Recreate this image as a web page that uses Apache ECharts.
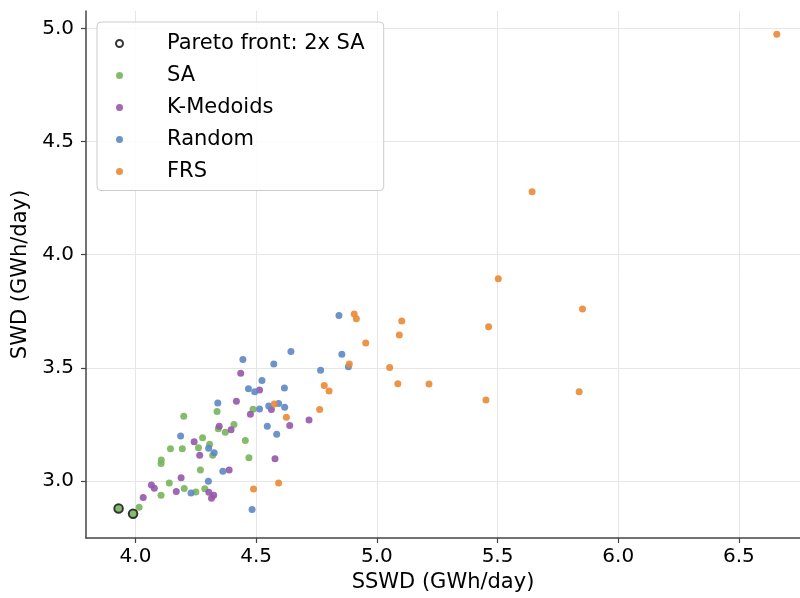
<!DOCTYPE html>
<html lang="en">
<head>
    <meta charset="UTF-8"/>
    <title>SWD vs SSWD</title>
    <script src="https://cdn.jsdelivr.net/npm/echarts@6/dist/echarts.min.js"></script>
    <style>
        html, body { margin: 0; padding: 0; background: #fff; }
        #chart { width: 800px; height: 598px; }
    </style>
</head>
<body>
<div id="chart"></div>
<script type="text/javascript">
    // points: [SSWD, SWD]
    var paretoPts = [[3.930, 2.879], [3.990, 2.856]];
    var saPts = [
        [4.487, 3.318], [4.338, 3.308], [4.200, 3.287], [4.408, 3.250], [4.343, 3.231],
        [4.372, 3.216], [4.455, 3.180], [4.278, 3.192], [4.307, 3.163], [4.261, 3.148],
        [4.194, 3.143], [4.145, 3.143], [4.320, 3.115], [4.107, 3.094], [4.106, 3.078],
        [4.470, 3.103], [4.269, 3.049], [4.140, 2.992], [4.202, 2.968], [4.250, 2.952],
        [4.287, 2.966], [4.106, 2.938], [4.015, 2.885], [3.930, 2.879], [3.990, 2.856]
    ];
    var kmedoidsPts = [
        [4.436, 3.477], [4.514, 3.403], [4.418, 3.353], [4.563, 3.317], [4.476, 3.295],
        [4.719, 3.270], [4.639, 3.246], [4.347, 3.243], [4.396, 3.227], [4.243, 3.174],
        [4.266, 3.115], [4.578, 3.099], [4.388, 3.049], [4.189, 3.015], [4.066, 2.983],
        [4.078, 2.969], [4.169, 2.954], [4.304, 2.951], [4.324, 2.938], [4.315, 2.925],
        [4.032, 2.928]
    ];
    var randomPts = [
        [4.843, 3.732], [4.644, 3.573], [4.855, 3.560], [4.445, 3.537], [4.573, 3.518],
        [4.882, 3.505], [4.767, 3.490], [4.524, 3.445], [4.468, 3.408], [4.494, 3.395],
        [4.617, 3.411], [4.341, 3.345], [4.514, 3.319], [4.552, 3.332], [4.593, 3.343],
        [4.618, 3.326], [4.546, 3.242], [4.585, 3.207], [4.187, 3.199], [4.303, 3.145],
        [4.326, 3.125], [4.362, 3.044], [4.302, 3.000], [4.230, 2.948], [4.483, 2.875]
    ];
    var frsPts = [
        [6.657, 4.974], [5.643, 4.278], [5.503, 3.894], [5.852, 3.760], [4.906, 3.738],
        [4.915, 3.717], [5.103, 3.707], [5.463, 3.682], [5.093, 3.646], [4.954, 3.610],
        [4.886, 3.518], [5.053, 3.502], [5.087, 3.430], [5.216, 3.429], [5.452, 3.358],
        [5.838, 3.395], [4.782, 3.423], [4.802, 3.398], [4.763, 3.316], [4.575, 3.341],
        [4.625, 3.282], [4.593, 2.992], [4.489, 2.965]
    ];
    var xTicks = [4.0, 4.5, 5.0, 5.5, 6.0, 6.5];
    var yTicks = [3.0, 3.5, 4.0, 4.5, 5.0];

    var fontFamily = '"DejaVu Sans", sans-serif';
    var spineColor = '#444';
    var gridColor = '#e6e6e6';

    var myChart = echarts.init(document.getElementById('chart'), null, {renderer: 'canvas'});

    function dotSeries(name, data, color) {
        return {
            name: name,
            type: 'scatter',
            data: data,
            symbol: 'circle',
            symbolSize: 7,
            itemStyle: {color: color, opacity: 0.9},
            emphasis: {disabled: true},
            z: 2
        };
    }

    var option = {
        animation: false,
        backgroundColor: '#fff',
        grid: {left: 86, right: 0, top: 11, bottom: 60},
        legend: {
            orient: 'vertical',
            left: 97,
            top: 22,
            padding: [10.5, 19, 8, 18],
            backgroundColor: 'rgba(255,255,255,0.85)',
            borderColor: '#cccccc',
            borderWidth: 1,
            borderRadius: 4,
            itemWidth: 19,
            itemHeight: 7,
            itemGap: 10,
            textStyle: {fontFamily: fontFamily, fontSize: 21, color: '#000', lineHeight: 22, padding: [0, 0, 0, 33]},
            data: ['Pareto front: 2x SA', 'SA', 'K-Medoids', 'Random', 'FRS']
        },
        xAxis: {
            type: 'value',
            min: 3.795,
            max: 6.753,
            name: 'SSWD (GWh/day)',
            nameLocation: 'middle',
            nameGap: 32,
            nameTextStyle: {fontFamily: fontFamily, fontSize: 21, color: '#000'},
            axisLine: {show: true, onZero: false, lineStyle: {color: spineColor, width: 1.5}},
            axisTick: {show: true, length: 5, customValues: xTicks, lineStyle: {color: spineColor, width: 1.2}},
            axisLabel: {customValues: xTicks, margin: 9, fontFamily: fontFamily, fontSize: 20, color: '#000',
                formatter: function (v) { return v.toFixed(1); }},
            splitLine: {show: true, lineStyle: {color: gridColor, width: 1}}
        },
        yAxis: {
            type: 'value',
            min: 2.749,
            max: 5.0765,
            name: 'SWD (GWh/day)',
            nameLocation: 'middle',
            nameGap: 42,
            nameTextStyle: {fontFamily: fontFamily, fontSize: 21, color: '#000'},
            axisLine: {show: true, onZero: false, lineStyle: {color: spineColor, width: 1.5}},
            axisTick: {show: true, length: 5, customValues: yTicks, lineStyle: {color: spineColor, width: 1.2}},
            axisLabel: {customValues: yTicks, margin: 12, fontFamily: fontFamily, fontSize: 20, color: '#000',
                formatter: function (v) { return v.toFixed(1); }},
            splitLine: {show: true, lineStyle: {color: gridColor, width: 1}}
        },
        series: [
            {
                name: 'Pareto front: 2x SA',
                type: 'scatter',
                data: paretoPts,
                symbol: 'circle',
                symbolSize: 8.5,
                itemStyle: {color: 'rgba(0,0,0,0)', borderColor: '#000', borderWidth: 2},
                emphasis: {disabled: true},
                z: 5
            },
            dotSeries('SA', saPts, '#78b55c'),
            dotSeries('K-Medoids', kmedoidsPts, '#9657ab'),
            dotSeries('Random', randomPts, '#5e87c4'),
            dotSeries('FRS', frsPts, '#ea8935')
        ]
    };

    myChart.setOption(option);
</script>
</body>
</html>
